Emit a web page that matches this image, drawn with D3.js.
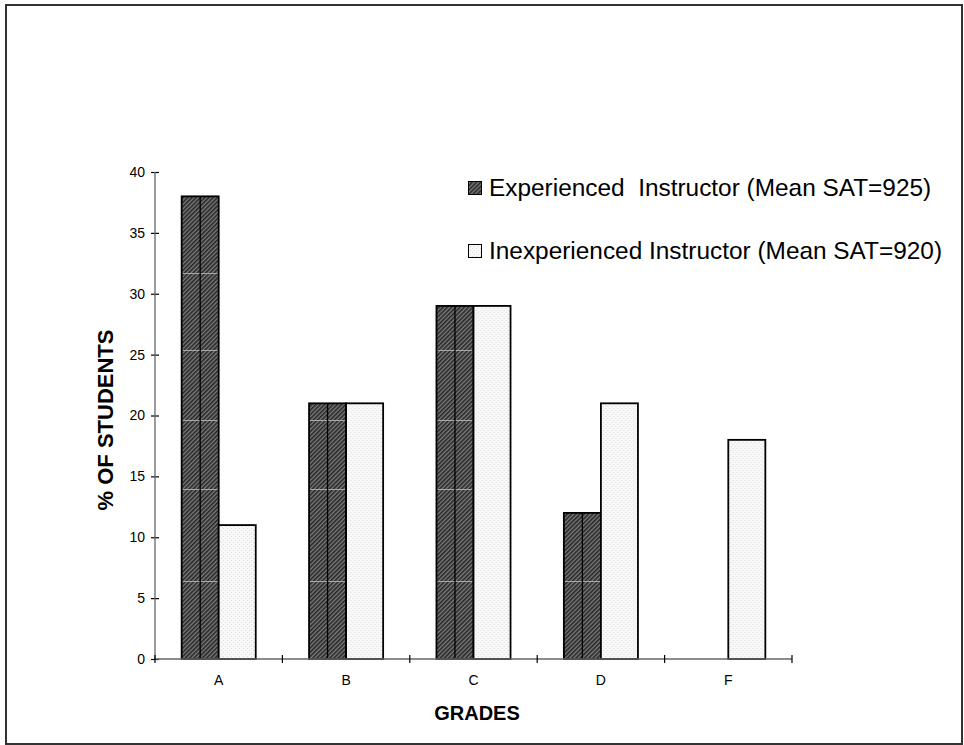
<!DOCTYPE html>
<html>
<head>
<meta charset="utf-8">
<script src="https://cdn.jsdelivr.net/npm/d3@7"></script>
<style>
html,body{margin:0;padding:0;background:#fff;}
svg{display:block;}
text{font-family:Arial,"Liberation Sans",sans-serif;fill:#000;}
</style>
</head>
<body>
<svg id="chart" width="964" height="745"></svg>
<script>
const grades = ["A", "B", "C", "D", "F"];
const seriesNames = ["Experienced  Instructor (Mean SAT=925)", "Inexperienced Instructor (Mean SAT=920)"];
const experienced = [38, 21, 29, 12, 0];
const inexperienced = [11, 21, 29, 21, 18];
const yTicks = [0, 5, 10, 15, 20, 25, 30, 35, 40];
const bandLines = [6.4, 14, 19.6, 25.4, 31.7]; // faint rendering lines inside dark bars

(function () {
const svg = d3.select("#chart");
const defs = svg.append("defs");

const hatch = defs.append("pattern").attr("id", "hatch")
  .attr("patternUnits", "userSpaceOnUse").attr("width", 3).attr("height", 3)
  .attr("patternTransform", "rotate(45)");
hatch.append("rect").attr("width", 3).attr("height", 3).attr("fill", "#7c7c7c");
hatch.append("rect").attr("width", 1.6).attr("height", 3).attr("fill", "#262626");

const dots = defs.append("pattern").attr("id", "dots")
  .attr("patternUnits", "userSpaceOnUse").attr("width", 4).attr("height", 4);
dots.append("rect").attr("width", 4).attr("height", 4).attr("fill", "#f8f8f8");
dots.append("rect").attr("x", 0).attr("y", 0).attr("width", 1).attr("height", 1).attr("fill", "#dcdcdc");
dots.append("rect").attr("x", 2).attr("y", 2).attr("width", 1).attr("height", 1).attr("fill", "#dcdcdc");

// outer frame
svg.append("rect").attr("x", 6).attr("y", 5).attr("width", 956).attr("height", 739)
  .attr("fill", "none").attr("stroke", "#333").attr("stroke-width", 2);

const plotLeft = 155, plotRight = 792, plotTop = 172, plotBottom = 659;

const y = d3.scaleLinear().domain([0, 40]).range([plotBottom, plotTop]);
const x0 = d3.scaleBand().domain(grades).range([plotLeft, plotRight]).padding(0);
const x1 = d3.scaleBand().domain([0, 1]).range([0, x0.bandwidth()]).paddingInner(0).paddingOuter(0.72);

const data = grades.map((g, i) => ({ g, vals: [experienced[i], inexperienced[i]] }));

const groups = svg.append("g").selectAll("g").data(data).join("g")
  .attr("transform", d => `translate(${x0(d.g)},0)`);

groups.each(function(d) {
  const gsel = d3.select(this);
  d.vals.forEach((v, s) => {
    if (v <= 0) return;
    const bx = x1(s), bw = x1.bandwidth();
    gsel.append("rect").attr("x", bx).attr("y", y(v)).attr("width", bw).attr("height", y(0) - y(v))
      .attr("fill", s === 0 ? "url(#hatch)" : "url(#dots)");
    if (s === 0) {
      bandLines.filter(b => b < v).forEach(b => {
        gsel.append("line").attr("x1", bx + 1).attr("x2", bx + bw - 1)
          .attr("y1", Math.round(y(b)) + 0.5).attr("y2", Math.round(y(b)) + 0.5)
          .attr("stroke", "#a8a8a8").attr("stroke-width", 1);
      });
      gsel.append("line").attr("x1", bx + bw / 2).attr("x2", bx + bw / 2)
        .attr("y1", y(v)).attr("y2", y(0)).attr("stroke", "#000").attr("stroke-width", 1.3);
    }
    gsel.append("rect").attr("x", bx).attr("y", y(v)).attr("width", bw).attr("height", y(0) - y(v))
      .attr("fill", "none").attr("stroke", "#000").attr("stroke-width", 1.8);
  });
});

// y axis
const yAxis = svg.append("g").attr("transform", `translate(${plotLeft},0)`)
  .call(d3.axisLeft(y).tickValues(yTicks).tickSize(4).tickPadding(6));
yAxis.select(".domain").remove();
yAxis.append("line").attr("x1", 0).attr("x2", 0).attr("y1", plotTop).attr("y2", plotBottom)
  .attr("stroke", "#666").attr("stroke-width", 1.3);
yAxis.selectAll(".tick line").attr("x1", -4).attr("x2", 4).attr("stroke", "#000").attr("stroke-width", 1.2);
yAxis.selectAll(".tick text").attr("font-size", 14).attr("font-family", "Arial, 'Liberation Sans', sans-serif").attr("fill", "#000");

// x axis
const xAxisG = svg.append("g").attr("transform", `translate(0,${plotBottom})`);
xAxisG.append("line").attr("x1", plotLeft).attr("x2", plotRight).attr("y1", 0).attr("y2", 0)
  .attr("stroke", "#666").attr("stroke-width", 1.3);
const boundaries = grades.map(g => x0(g)).concat([x0(grades[grades.length - 1]) + x0.bandwidth()]);
xAxisG.selectAll(".xt").data(boundaries).join("line").attr("class", "xt")
  .attr("x1", d => d).attr("x2", d => d).attr("y1", -4).attr("y2", 4)
  .attr("stroke", "#000").attr("stroke-width", 1.2);
xAxisG.selectAll(".xl").data(grades).join("text").attr("class", "xl")
  .attr("x", d => x0(d) + x0.bandwidth() / 2).attr("y", 26)
  .attr("text-anchor", "middle").attr("font-size", 14).text(d => d);

// axis titles
svg.append("text").attr("x", 477).attr("y", 720).attr("text-anchor", "middle")
  .attr("font-size", 20).attr("font-weight", "bold").text("GRADES");
svg.append("text").attr("transform", "translate(113,420) rotate(-90)").attr("text-anchor", "middle")
  .attr("font-size", 22).attr("font-weight", "bold").text("% OF STUDENTS");

// legend
const legend = svg.append("g");
const legY = [181, 244];
seriesNames.forEach((name, i) => {
  legend.append("rect").attr("x", 468.5).attr("y", legY[i] + 0.5).attr("width", 13).attr("height", 13)
    .attr("fill", i === 0 ? "url(#hatch)" : "url(#dots)").attr("stroke", "#000").attr("stroke-width", 1);
  legend.append("text").attr("x", 489).attr("y", legY[i] + 15).attr("font-size", 24.4)
    .style("white-space", "pre").text(name);
});
})();
</script>
</body>
</html>
